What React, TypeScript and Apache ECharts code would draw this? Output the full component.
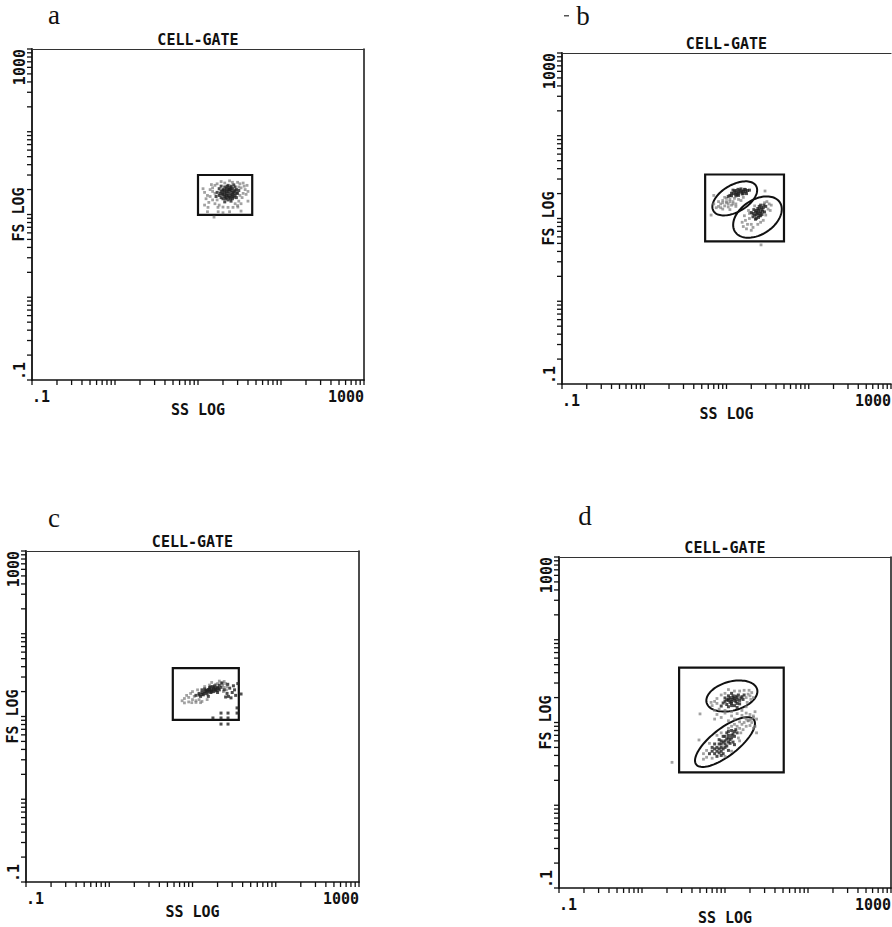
import React, { useEffect, useRef } from 'react';
import * as echarts from 'echarts';

// ---------- axis definition ----------
const AXIS_MIN = 0.1;
const AXIS_MAX = 1000;
const LOG_TICKS = [
  0.1, 0.2, 0.3, 0.4, 0.5, 0.6, 0.7, 0.8, 0.9,
  1, 2, 3, 4, 5, 6, 7, 8, 9,
  10, 20, 30, 40, 50, 60, 70, 80, 90,
  100, 200, 300, 400, 500, 600, 700, 800, 900,
  1000,
];
const X_LABEL_MIN = '.1';
const X_LABEL_MAX = '1000';
const PANEL_LETTERS = ['a', 'b', 'c', 'd'];
const PANEL_TITLE = 'CELL-GATE';
const X_NAME = 'SS LOG';
const Y_NAME = 'FS LOG';

// ---------- gates: [x1, y1, x2, y2] ----------
const GATE_A = [10, 9.9, 45, 30];
const GATE_B = [5.5, 5.3, 50, 34];
const GATE_C = [5.8, 9.1, 36, 38.5];
const GATE_D = [2.8, 2.5, 51, 46];

// ---------- elliptical gates: [cx, cy, semiMajor(decades), semiMinor(decades), angleDeg] ----------
const ELLIPSES_B = [
  [12.6, 17.5, 0.3, 0.163, 30],
  [23.8, 10.4, 0.325, 0.21, 33],
];
const ELLIPSES_D = [
  [12.1, 20.9, 0.315, 0.175, 15],
  [10, 5.8, 0.44, 0.165, 38],
];

// ---------- events (SS, FS) ----------
const A_DARK = [
  [20, 18], [22, 19], [24, 18], [23, 17], [21, 16.5], [25, 19.5], [26, 17.5], [19, 19], [22, 20.5], [24, 21],
  [27, 19], [28, 17], [20, 15.5], [23, 15], [26, 15.5], [18, 17], [17, 18.5], [21, 21.5], [25, 22], [29, 20],
  [30, 18], [19, 16], [24, 16.2], [22, 17.8], [26, 20.5], [27, 16.2], [20, 20], [23, 22.5], [18, 20.5], [28, 21.5],
  [16.5, 16.5], [31, 19.5], [25, 14.5], [21, 14.2], [29, 16], [19, 22], [27, 22.8], [24, 19.8], [22, 16], [20.5, 17.2],
  [21, 18.5], [23, 18.8], [25, 17], [22, 17], [24, 20], [26, 18.5], [20, 19.5], [23, 20], [25, 21], [21, 19.8],
  [27, 18], [19.5, 17.5], [22.5, 21.8], [24.5, 15.5], [28, 19.5], [18.5, 18], [26, 16.5], [21.5, 15.5], [23.5, 16.3], [29, 18.2],
];
const A_LIGHT = [
  [13, 17], [14, 20], [15, 15], [13.5, 14], [16, 22.5], [15, 19], [12, 18.5], [14, 16.5], [33, 21], [35, 18],
  [34, 16], [37, 20], [32, 23.5], [30, 24.5], [26, 24.5], [21, 24], [17, 23.5], [38, 17.5], [36, 22], [40, 19],
  [12.5, 15.5], [16, 13.5], [18, 13], [28, 13.5], [31, 14.5], [33, 13.5], [14.5, 23], [24, 25.5], [19, 25], [35, 24],
  [11.5, 20.5], [39, 22.5], [12, 13], [40, 14.5], [30, 12.8], [16, 18], [15, 21], [32, 17], [31, 21.5], [17, 15],
  [13.2, 12.2], [17.4, 12.2], [20, 12.3], [23, 12.2], [26.4, 12.2], [30.2, 12.3], [13, 10.8], [17.5, 10.8], [24, 10.8],
  [33, 11], [20, 10.5], [15.6, 9.3],
];

const B_DARK = [
  [12, 20], [13, 20.5], [14, 21], [15, 20.8], [16, 21.5], [17, 21], [13.5, 19.5], [15.5, 19.8], [11, 19], [12.5, 21.5],
  [14.5, 22], [16.5, 22.5], [18, 21.8], [10.5, 18.5], [13, 18.8], [17.5, 20], [11.5, 20.2], [15, 22.8], [12, 22], [19, 22],
  [14, 19], [13, 21.8], [14, 20.2], [15.5, 21.3], [12.8, 19.8], [16, 20], [17, 22.3], [11.5, 18.8], [13.8, 22.5],
  [22, 11], [24, 11.5], [26, 12], [23, 12.5], [25, 13], [27, 12.8], [21, 10.5], [24.5, 10.3], [28, 13.5], [20, 11.8],
  [26, 10.8], [22.5, 9.8], [29, 12], [25, 14], [23, 10], [27, 11.2], [30, 14], [21.5, 12.8],
  [23.5, 11.8], [24.5, 12.5], [25.5, 11.5], [22.5, 12], [26.5, 13.5], [24, 13.2], [27.5, 12.2], [23, 11], [25, 10.8],
  [21, 11.5], [28.5, 14.5], [26, 14.5],
];
const B_LIGHT = [
  [8.5, 15], [9, 16.5], [10, 15.5], [8, 14], [9.5, 14.2], [11, 16], [7.5, 13.5], [10, 17.5], [12, 16], [13, 15],
  [11.5, 14.5], [9, 13], [14, 17], [8, 16], [7, 15], [12.5, 17.5], [10.5, 13.8], [16, 18], [15, 16.5], [13, 14],
  [9.5, 18], [11, 12.8], [10, 16], [9, 15.5], [11, 17], [12, 15], [8.5, 13.5], [10.5, 15],
  [16, 8], [17, 9.5], [18, 8.5], [19, 10], [15.5, 9], [17.5, 7.5], [20, 8.5], [21, 7.8], [19, 11.5], [30, 11],
  [32, 13], [33, 15], [31, 16], [34, 12.5], [28, 9.5], [24, 8.5], [26, 9], [18.5, 12.5], [22, 14.2], [35, 14.5],
  [20, 7.2], [29, 15.5], [16.5, 10.8],
  [29.4, 21.5], [26.3, 4.8], [6.5, 11], [7, 19],
];

const C_DARK = [
  [12, 19], [13, 19.5], [14, 20], [15, 20.5], [16, 21], [17, 21.2], [18, 21.5], [19, 22], [20, 22.5], [13.5, 18.3],
  [15, 18.8], [16.5, 19.5], [18, 20], [19.5, 20.5], [21, 21], [14, 21.5], [16, 22.3], [17.5, 23], [12.5, 17.5], [11, 18],
  [20, 19.5], [22, 22.5], [15.5, 17.5], [18.5, 23.5], [21, 23.8], [13, 21],
  [14, 19], [15, 19.8], [16, 20.2], [17, 20.5], [18, 22.2], [15.5, 21.2], [17, 19.8], [19, 21.2], [13, 18.5], [14.5, 20.8],
  [20.5, 21.8], [16.5, 22.8], [12, 18.2], [18.5, 20.8],
  [22.6, 25.4], [24, 21], [26, 19], [28, 22], [30, 19.5], [27, 17.5], [32, 21], [29, 16.8], [25, 17.2], [35, 25],
  [26.5, 24.5], [31, 23.5], [33, 18],
  [17.6, 9.6], [22, 11], [26.7, 11], [22, 9.6], [26.7, 9.6], [34.3, 12.7], [34.3, 11], [22, 8.1], [26.7, 8.1], [38.3, 18.7],
];
const C_LIGHT = [
  [8, 16.5], [8.5, 18], [9, 17], [9.5, 19], [10, 16], [10.5, 17.5], [7.5, 15.5], [9, 15], [11, 15.5], [12, 16],
  [10, 20], [11.5, 21], [23, 24], [24, 22.5], [25, 25], [22, 25.5], [20, 25], [19, 24.5], [16, 24], [14, 23],
  [23.5, 20], [25.5, 21], [11, 14.8], [13, 15.2], [8, 14.6], [9.8, 14.7], [12.5, 14.7], [15, 16], [26, 23], [17, 25.8],
  [24, 26.5], [21, 26.8],
];

const D_DARK = [
  [10, 18], [11, 18.5], [12, 19], [13, 19.5], [14, 20], [10.5, 16.5], [12, 17], [13.5, 17.8], [15, 18.5], [9.5, 17.2],
  [11.5, 20], [12.5, 21], [14.5, 21.5], [16, 20.5], [11, 15.5], [13, 16], [15, 16.8], [10, 19.8], [16.5, 19], [9, 15.8],
  [17, 21.5], [12, 22.5], [14, 15.2],
  [11, 19.2], [12, 18], [13, 18.5], [12.5, 20], [11.5, 17.5], [14, 18.8], [13.5, 20.8], [10.5, 18.8], [15.5, 19.8], [12, 16],
  [14, 17], [11, 21],
  [8, 5], [9, 5.5], [10, 6], [11, 6.5], [12, 7], [7, 4.5], [8.5, 4.3], [9.5, 4.8], [10.5, 5.2], [11.5, 5.6],
  [13, 6.8], [7.5, 5.5], [8.5, 6.2], [9.5, 6.8], [10.5, 7.5], [12, 8], [13.5, 8.2], [6.5, 4.2], [8, 3.9], [9, 4],
  [11, 4.6], [12.5, 5.8], [14, 7.5], [10, 5.5], [9, 6], [11, 7], [7, 5], [13, 5.4],
  [9, 5], [10, 5], [9.5, 5.8], [10.5, 6.3], [8.5, 4.8], [11, 5.8], [11.5, 6.2], [12, 6.5], [8, 4.5], [9, 4.5],
  [10, 6.8], [12.5, 7.3], [7.5, 4.2], [11, 7.8], [13, 7.8], [9.5, 4.2], [8.5, 5.5], [7.5, 4.8],
];
const D_LIGHT = [
  [7, 16], [7.5, 18], [8, 19.5], [8.5, 14.5], [7.5, 14], [18, 20], [19, 22], [20, 21], [18.5, 17.5], [20.5, 19],
  [21, 23], [15, 24], [17, 24.5], [13, 24], [10, 22.5], [9, 21.5], [16, 14], [18, 15.5], [12, 13.5], [10, 14],
  [19.5, 24.5], [22, 20], [11, 25], [8, 17], [6.8, 17.5],
  [8, 12.5], [10, 13], [12, 12], [14, 12.8], [16, 12.2], [18, 13], [20, 12.5], [9, 11.5], [13, 11], [17, 11.5],
  [21, 11], [11, 10.5], [15, 10.2], [19, 10.5], [22, 12], [23, 13.5], [7.5, 11], [24, 11],
  [5.5, 3.6], [6, 3.8], [6, 4.6], [5.5, 4.2], [7, 3.7], [14, 9], [15, 8.5], [16, 9.5], [17, 10], [15.5, 7.5],
  [16.5, 8.2], [18, 9], [19, 10.5], [18, 11], [20, 9.2], [13, 9.5], [12, 9], [11, 8.5], [14.5, 6.5], [10, 3.9],
  [12, 4.5], [8, 7], [9, 7.5], [21, 10], [22, 8.5], [23, 9], [24, 7.5], [22, 11.5], [20, 10.8], [6.5, 5.6], [15, 6],
  [5.0, 12.7], [4.86, 6.15], [2.3, 3.3],
];

// ---------- layout (pixels) ----------
const GRIDS = [
  { left: 32, top: 49, width: 332, height: 331 },
  { left: 562, top: 53, width: 329, height: 331 },
  { left: 26, top: 551, width: 333, height: 331 },
  { left: 559, top: 557, width: 332, height: 331 },
];
const LETTER_POS = [
  [54, 14.5],
  [583, 16],
  [54, 518],
  [585, 516],
];
const SHOW_RIGHT_BORDER = [true, false, true, true];

const FONT = '"DejaVu Sans Mono", "Liberation Mono", monospace';
const INK = '#111';

const PANELS = [
  { gate: GATE_A, ellipses: [], dark: A_DARK, light: A_LIGHT },
  { gate: GATE_B, ellipses: ELLIPSES_B, dark: B_DARK, light: B_LIGHT },
  { gate: GATE_C, ellipses: [], dark: C_DARK, light: C_LIGHT },
  { gate: GATE_D, ellipses: ELLIPSES_D, dark: D_DARK, light: D_LIGHT },
];

function near(v: number, t: number) {
  return Math.abs(v - t) < t * 1e-6;
}
function logLabel(v: number) {
  if (near(v, AXIS_MIN)) return X_LABEL_MIN;
  if (near(v, AXIS_MAX)) return X_LABEL_MAX;
  return '';
}

const textBase = { fontFamily: FONT, fontWeight: 'bold' as const, fontSize: 15, color: INK };

function buildOption() {
  const grid: any[] = [];
  const xAxis: any[] = [];
  const yAxis: any[] = [];
  const series: any[] = [];

  PANELS.forEach((p, i) => {
    grid.push({ ...GRIDS[i], show: false, containLabel: false, outerBoundsMode: 'none' });
    xAxis.push({
      type: 'log', logBase: 10, min: AXIS_MIN, max: AXIS_MAX, gridIndex: i, position: 'bottom',
      axisLine: { show: true, lineStyle: { color: INK, width: 1.6 } },
      axisTick: { show: false }, splitLine: { show: false }, minorTick: { show: false },
      axisLabel: {
        show: true, formatter: logLabel, margin: 9, ...textBase,
        alignMinLabel: 'left', alignMaxLabel: 'right', showMinLabel: true, showMaxLabel: true,
      },
      name: X_NAME, nameLocation: 'middle', nameGap: 22, nameTextStyle: { ...textBase },
      nameMoveOverlap: false,
    });
    xAxis.push({
      type: 'log', logBase: 10, min: AXIS_MIN, max: AXIS_MAX, gridIndex: i, position: 'top',
      axisLine: { show: true, lineStyle: { color: '#333', width: 1.2 } },
      axisTick: { show: false }, splitLine: { show: false }, axisLabel: { show: false },
      name: PANEL_TITLE, nameLocation: 'middle', nameGap: 2, nameTextStyle: { ...textBase },
      nameMoveOverlap: false,
    });
    yAxis.push({
      type: 'log', logBase: 10, min: AXIS_MIN, max: AXIS_MAX, gridIndex: i, position: 'left',
      axisLine: { show: true, lineStyle: { color: INK, width: 1.8 } },
      axisTick: { show: false }, splitLine: { show: false }, minorTick: { show: false },
      axisLabel: {
        show: true, formatter: logLabel, rotate: 90, margin: 5, ...textBase,
        alignMinLabel: 'left', alignMaxLabel: 'right', showMinLabel: true, showMaxLabel: true,
      },
      name: Y_NAME, nameLocation: 'middle', nameGap: 6, nameRotate: 90, nameTextStyle: { ...textBase },
      nameMoveOverlap: false,
    });
    yAxis.push({
      type: 'log', logBase: 10, min: AXIS_MIN, max: AXIS_MAX, gridIndex: i, position: 'right',
      axisLine: { show: SHOW_RIGHT_BORDER[i], lineStyle: { color: INK, width: 1.5 } },
      axisTick: { show: false }, splitLine: { show: false }, axisLabel: { show: false },
    });

    const xi = 2 * i;
    const yi = 2 * i;

    series.push({
      type: 'scatter', xAxisIndex: xi, yAxisIndex: yi, data: p.light, symbol: 'rect', symbolSize: 2.8,
      itemStyle: { color: '#7a7a7a', opacity: 0.7 }, silent: true,
    });
    series.push({
      type: 'scatter', xAxisIndex: xi, yAxisIndex: yi, data: p.dark, symbol: 'rect', symbolSize: 3,
      itemStyle: { color: '#222', opacity: 0.8 }, silent: true,
    });
    series.push({
      type: 'custom', xAxisIndex: xi, yAxisIndex: yi, data: [p.gate], silent: true, clip: false,
      renderItem: (_: any, api: any) => {
        const p1 = api.coord([api.value(0), api.value(1)]);
        const p2 = api.coord([api.value(2), api.value(3)]);
        return {
          type: 'rect',
          shape: { x: p1[0], y: p2[1], width: p2[0] - p1[0], height: p1[1] - p2[1] },
          style: { fill: 'none', stroke: INK, lineWidth: 2.2 },
        };
      },
    });
    if (p.ellipses.length) {
      series.push({
        type: 'custom', xAxisIndex: xi, yAxisIndex: yi, data: p.ellipses, silent: true, clip: false,
        renderItem: (_: any, api: any) => {
          const cx = Math.log10(api.value(0));
          const cy = Math.log10(api.value(1));
          const a = api.value(2);
          const b = api.value(3);
          const th = (api.value(4) * Math.PI) / 180;
          const pts: number[][] = [];
          const n = 90;
          for (let k = 0; k < n; k++) {
            const t = (k / n) * Math.PI * 2;
            const lx = cx + a * Math.cos(t) * Math.cos(th) - b * Math.sin(t) * Math.sin(th);
            const ly = cy + a * Math.cos(t) * Math.sin(th) + b * Math.sin(t) * Math.cos(th);
            pts.push(api.coord([Math.pow(10, lx), Math.pow(10, ly)]));
          }
          return { type: 'polygon', shape: { points: pts }, style: { fill: 'none', stroke: INK, lineWidth: 2 } };
        },
      });
    }
    series.push({
      type: 'custom', xAxisIndex: xi, yAxisIndex: yi, silent: true, clip: false,
      data: LOG_TICKS.map((v) => [v, AXIS_MIN]),
      renderItem: (_: any, api: any) => {
        const c = api.coord([api.value(0), api.value(1)]);
        return { type: 'line', shape: { x1: c[0], y1: c[1], x2: c[0], y2: c[1] + 5 }, style: { stroke: INK, lineWidth: 1.3 } };
      },
    });
    series.push({
      type: 'custom', xAxisIndex: xi, yAxisIndex: yi, silent: true, clip: false,
      data: LOG_TICKS.map((v) => [AXIS_MIN, v]),
      renderItem: (_: any, api: any) => {
        const c = api.coord([api.value(0), api.value(1)]);
        return { type: 'line', shape: { x1: c[0], y1: c[1], x2: c[0] - 5, y2: c[1] }, style: { stroke: INK, lineWidth: 1.3 } };
      },
    });
  });

  const graphic: any[] = PANEL_LETTERS.map((l, i) => ({
    type: 'text', x: LETTER_POS[i][0], y: LETTER_POS[i][1], silent: true,
    style: { text: l, font: '27px "Liberation Serif", "DejaVu Serif", serif', fill: INK, align: 'center', verticalAlign: 'middle' },
  }));
  graphic.push({ type: 'rect', silent: true, shape: { x: 564, y: 15, width: 5, height: 1.5 }, style: { fill: '#555' } });

  return {
    animation: false,
    backgroundColor: '#ffffff',
    grid,
    xAxis,
    yAxis,
    series,
    graphic,
  };
}

export default function App() {
  const ref = useRef<HTMLDivElement>(null);
  useEffect(() => {
    if (!ref.current) return;
    const chart = echarts.init(ref.current, undefined, { renderer: 'svg' });
    chart.setOption(buildOption());
    return () => chart.dispose();
  }, []);
  return (
    <div
      ref={ref}
      style={{ position: 'absolute', left: 0, top: 0, width: 892, height: 927, background: '#fff' }}
    />
  );
}
